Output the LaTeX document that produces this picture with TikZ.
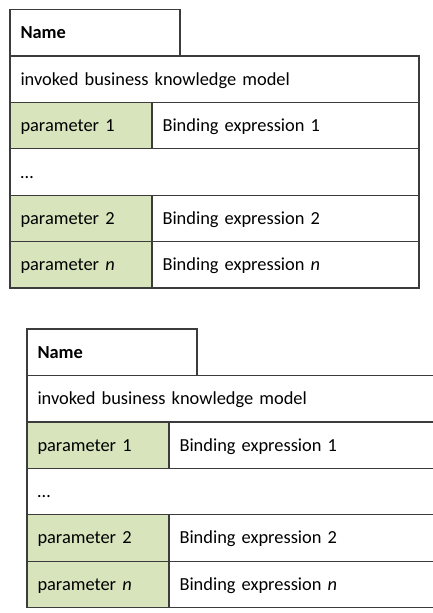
\documentclass[tikz,border=0pt]{standalone}
\usepackage{fontspec}
\setmainfont{Carlito}
\definecolor{paramgreen}{RGB}{215,228,188}
\definecolor{rulegray}{RGB}{60,60,60}
\tikzset{
  cell/.style={draw=rulegray, line width=1.2pt, fill=white, anchor=north west,
    inner xsep=10.5pt, inner ysep=0pt, outer sep=0pt, text height=12pt, text depth=0pt,
    align=left, font=\fontsize{18.4}{22}\selectfont},
  paramcell/.style={cell, fill=paramgreen},
}
% #1 prefix, #2 x, #3 y, #4 full width
\newcommand\bkmtable[4]{%
  \pgfmathsetmacro\bkmfullw{#4}%
  \pgfmathsetmacro\bkmfulltw{#4-21}%
  \pgfmathsetmacro\bkmbindw{#4-142}%
  \pgfmathsetmacro\bkmbindtw{#4-142-21}%
  \begin{scope}[shift={(#2,#3)}]
    \node[cell, minimum width=170pt, text width=149pt, minimum height=46.5pt, font=\fontsize{18.4}{22}\selectfont\bfseries] (#1name) at (0,0) {Name};
    \node[cell, minimum width=\bkmfullw pt, text width=\bkmfulltw pt, minimum height=46.4pt] (#1bkm) at (0,-46.5) {invoked business knowledge model};
    \node[paramcell, minimum width=142pt, text width=121pt, minimum height=46.4pt] (#1pa) at (0,-92.9) {parameter 1};
    \node[cell, minimum width=\bkmbindw pt, text width=\bkmbindtw pt, minimum height=46.4pt] (#1ba) at (142,-92.9) {Binding expression 1};
    \node[cell, minimum width=\bkmfullw pt, text width=\bkmfulltw pt, minimum height=46.4pt] (#1dots) at (0,-139.3) {…};
    \node[paramcell, minimum width=142pt, text width=121pt, minimum height=46.4pt] (#1pb) at (0,-185.7) {parameter 2};
    \node[cell, minimum width=\bkmbindw pt, text width=\bkmbindtw pt, minimum height=46.4pt] (#1bb) at (142,-185.7) {Binding expression 2};
    \node[paramcell, minimum width=142pt, text width=121pt, minimum height=46.4pt] (#1pn) at (0,-232.1) {parameter \textit{n}};
    \node[cell, minimum width=\bkmbindw pt, text width=\bkmbindtw pt, minimum height=46.4pt] (#1bn) at (142,-232.1) {Binding expression \textit{n}};
  \end{scope}%
}
\begin{document}
\begin{tikzpicture}[x=1pt,y=1pt]
  \useasboundingbox (0,0) rectangle (433,-613);
  \clip (0,0) rectangle (433,-613);
  \bkmtable{t}{10}{-9.5}{409}
  \bkmtable{u}{27}{-329}{423}
\end{tikzpicture}
\end{document}
